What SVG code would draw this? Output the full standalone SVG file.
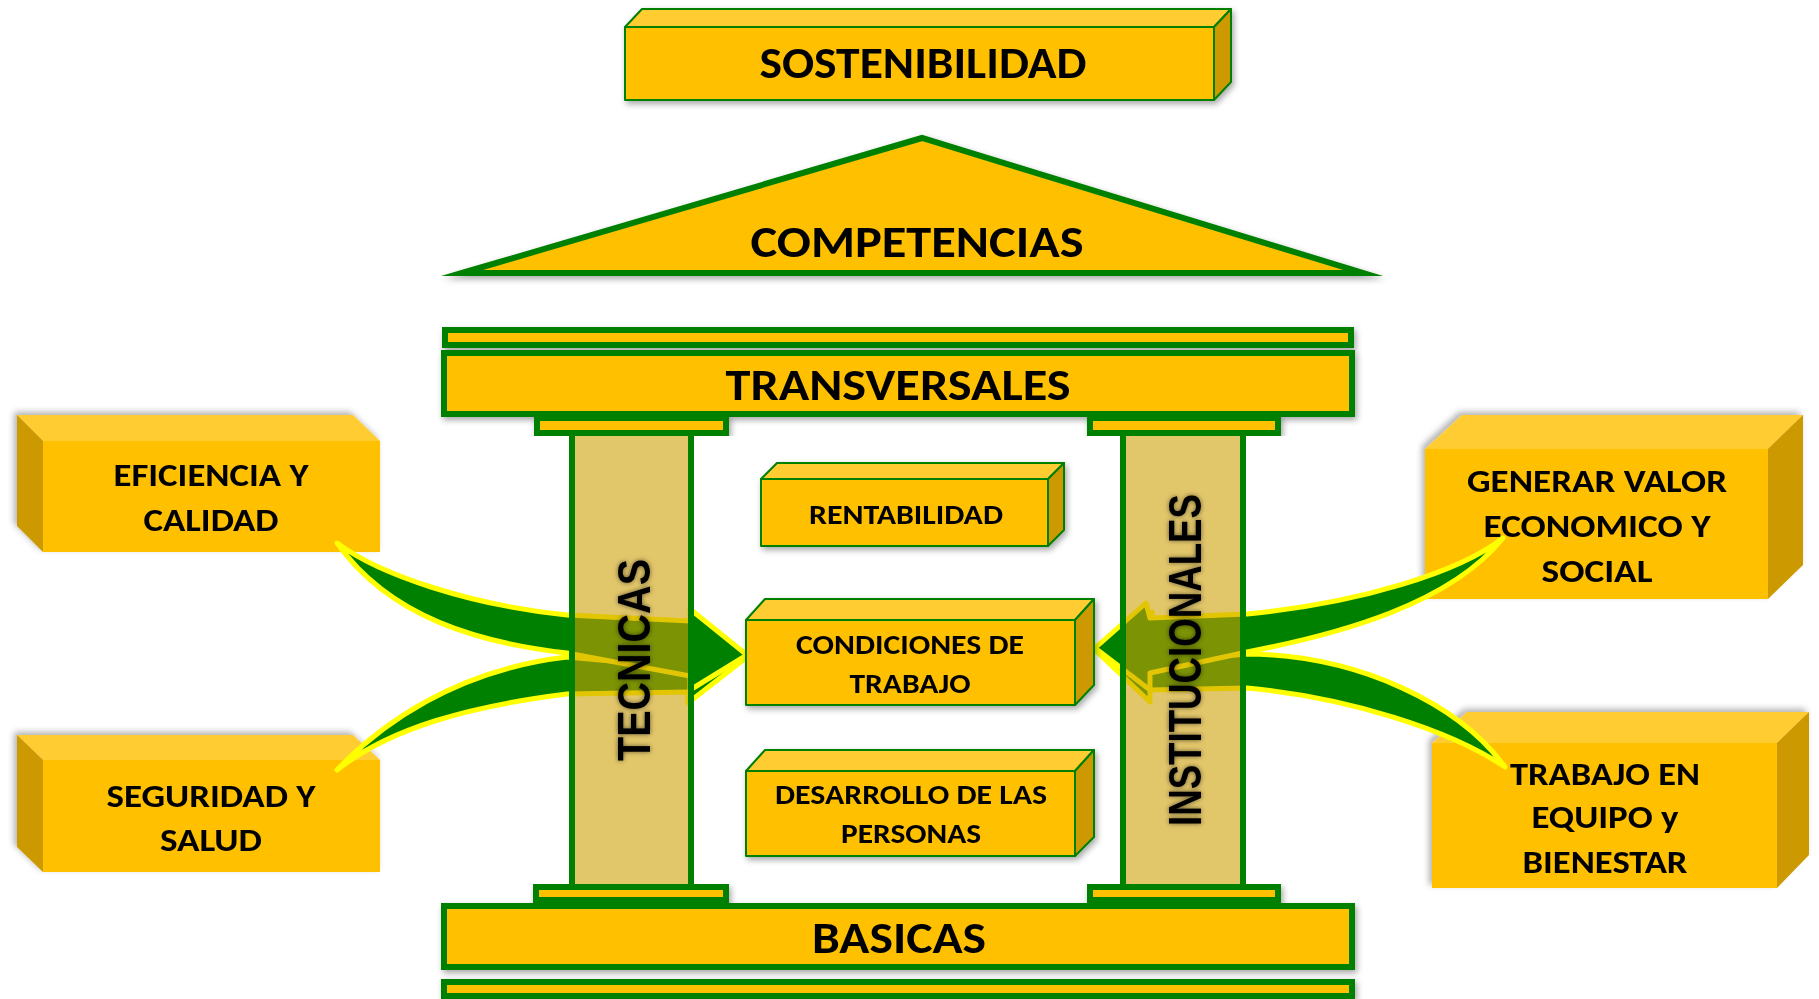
<svg xmlns="http://www.w3.org/2000/svg" width="1819" height="999" viewBox="0 0 1819 999">
<defs>
<style>
.front{fill:#FFC000}
.top{fill:#FFCC33}
.side{fill:#CC9900}
.edge{stroke:#008000;stroke-width:2;stroke-linejoin:round}
.bar{fill:#FFC000;stroke:#008000;stroke-width:6}
.col{fill:#CFA007;fill-opacity:0.6;stroke:#008000;stroke-width:6}
.arrow{fill:#008000;stroke:#FFFF00;stroke-width:5;stroke-linejoin:round}
.t{font-family:Carlito,Lato,'Liberation Sans',sans-serif;font-weight:700;fill:#000;text-anchor:middle}
.big{font-size:45px}
.mid{font-size:32px}
.small{font-size:28px}
.colt{font-family:'Liberation Sans',Arial,sans-serif;font-weight:700;font-size:47px;fill:#000;text-anchor:middle}
</style>
<filter id="sh" x="-10%" y="-20%" width="120%" height="140%"><feDropShadow dx="2" dy="3" stdDeviation="3" flood-color="#000" flood-opacity="0.35"/></filter>
<filter id="shl" x="-10%" y="-20%" width="120%" height="140%"><feDropShadow dx="-3" dy="-3" stdDeviation="3" flood-color="#000" flood-opacity="0.3"/></filter>
<filter id="tsh" x="-20%" y="-40%" width="140%" height="180%"><feDropShadow dx="0" dy="0" stdDeviation="2.5" flood-color="#000" flood-opacity="0.55"/></filter>
</defs>
<rect width="1819" height="999" fill="#FFFFFF"/>

<g id="sostenibilidad" filter="url(#sh)">
<polygon class="top edge" points="625,27 642,9 1231,9 1214,27"/>
<polygon class="side edge" points="1214,27 1231,9 1231,82 1214,100"/>
<rect class="front edge" x="625" y="27" width="589" height="73"/>
<text class="t big" x="923" y="78" textLength="327" lengthAdjust="spacingAndGlyphs">SOSTENIBILIDAD</text>
</g>

<g id="competencias" filter="url(#sh)">
<polygon points="462,273 922,138 1363,273" fill="#FFC000" stroke="#008000" stroke-width="6" stroke-miterlimit="40"/>
<text class="t big" x="917" y="257" textLength="333" lengthAdjust="spacingAndGlyphs">COMPETENCIAS</text>
</g>

<g id="eficiencia" filter="url(#shl)">
<polygon class="top" points="17,415 353,415 380,441 43,441"/>
<polygon class="side" points="17,415 43,441 43,552 17,526"/>
<rect class="front" x="43" y="441" width="337" height="111"/>
<text class="t mid" x="211" y="486" textLength="195" lengthAdjust="spacingAndGlyphs">EFICIENCIA Y</text>
<text class="t mid" x="211" y="531" textLength="135" lengthAdjust="spacingAndGlyphs">CALIDAD</text>
</g>

<g id="seguridad" filter="url(#shl)">
<polygon class="top" points="17,735 353,735 380,760 43,760"/>
<polygon class="side" points="17,735 43,760 43,872 17,847"/>
<rect class="front" x="43" y="760" width="337" height="112"/>
<text class="t mid" x="211" y="807" textLength="209" lengthAdjust="spacingAndGlyphs">SEGURIDAD Y</text>
<text class="t mid" x="211" y="851" textLength="102" lengthAdjust="spacingAndGlyphs">SALUD</text>
</g>

<g id="generar" filter="url(#shl)">
<polygon class="top" points="1425,449 1462,415 1803,415 1768,449"/>
<polygon class="side" points="1768,449 1803,415 1803,565 1768,599"/>
<rect class="front" x="1425" y="449" width="343" height="150"/>
<text class="t mid" x="1597" y="492" textLength="260" lengthAdjust="spacingAndGlyphs">GENERAR VALOR</text>
<text class="t mid" x="1597" y="537" textLength="227" lengthAdjust="spacingAndGlyphs">ECONOMICO Y</text>
<text class="t mid" x="1597" y="582" textLength="111" lengthAdjust="spacingAndGlyphs">SOCIAL</text>
</g>

<g id="trabajo-equipo" filter="url(#shl)">
<polygon class="top" points="1432,743 1467,712 1809,712 1777,743"/>
<polygon class="side" points="1777,743 1809,712 1809,855 1777,888"/>
<rect class="front" x="1432" y="743" width="345" height="145"/>
<text class="t mid" x="1605" y="785" textLength="190" lengthAdjust="spacingAndGlyphs">TRABAJO EN</text>
<text class="t mid" x="1605" y="828" textLength="147" lengthAdjust="spacingAndGlyphs">EQUIPO y</text>
<text class="t mid" x="1605" y="873" textLength="165" lengthAdjust="spacingAndGlyphs">BIENESTAR</text>
</g>

<g id="connectors">
<path class="arrow" d="M 337,770 C 380,725 455,670 567,657 L 688,668 L 688,622 L 747,657 L 688,703 L 688,692 L 567,694 C 470,706 390,728 337,770 Z"/>
<path class="arrow" d="M 337,543 C 380,575 470,605 567,615 L 690,621 L 690,609 L 747,655 L 690,690 L 690,676 L 567,653 C 480,643 390,618 337,543 Z"/>
<path class="arrow" d="M 1505,767 C 1460,705 1360,655 1247,654 L 1152,662 L 1152,612 L 1095,650 L 1150,702 L 1150,690 L 1247,688 C 1350,698 1450,730 1505,767 Z"/>
<path class="arrow" d="M 1503,538 C 1460,572 1360,603 1247,614 L 1150,618 L 1146,603 L 1095,648 L 1150,690 L 1150,673 L 1247,652 C 1340,634 1450,604 1503,538 Z"/>
</g>

<g id="transversales" filter="url(#sh)">
<rect class="bar" x="445" y="330" width="906" height="15"/>
<rect class="bar" x="444" y="353" width="908" height="61"/>
<text class="t big" x="898" y="400" textLength="345" lengthAdjust="spacingAndGlyphs">TRANSVERSALES</text>
</g>

<g id="basicas" filter="url(#sh)">
<rect class="bar" x="444" y="906" width="908" height="61"/>
<rect class="bar" x="444" y="982" width="908" height="14"/>
<text class="t big" x="899" y="953" textLength="174" lengthAdjust="spacingAndGlyphs">BASICAS</text>
</g>

<g id="tecnicas">
<rect class="col" x="572" y="433" width="119" height="454"/>
<rect class="bar" x="537" y="418" width="189" height="15" filter="url(#sh)"/>
<rect class="bar" x="536" y="887" width="190" height="13" filter="url(#sh)"/>
<text class="colt" transform="translate(650,660) rotate(-90)" textLength="202" lengthAdjust="spacingAndGlyphs" filter="url(#tsh)">TECNICAS</text>
</g>

<g id="institucionales">
<rect class="col" x="1123" y="433" width="120" height="454"/>
<rect class="bar" x="1090" y="418" width="188" height="15" filter="url(#sh)"/>
<rect class="bar" x="1090" y="887" width="188" height="13" filter="url(#sh)"/>
<text class="colt" transform="translate(1201,660) rotate(-90)" textLength="332" lengthAdjust="spacingAndGlyphs" filter="url(#tsh)">INSTITUCIONALES</text>
</g>

<g id="rentabilidad" filter="url(#sh)">
<polygon class="top edge" points="761,479 777,463 1064,463 1048,479"/>
<polygon class="side edge" points="1048,479 1064,463 1064,530 1048,546"/>
<rect class="front edge" x="761" y="479" width="287" height="67"/>
<text class="t small" x="906" y="524" textLength="194" lengthAdjust="spacingAndGlyphs">RENTABILIDAD</text>
</g>

<g id="condiciones" filter="url(#sh)">
<polygon class="top edge" points="746,620 765,599 1094,599 1075,620"/>
<polygon class="side edge" points="1075,620 1094,599 1094,685 1075,705"/>
<rect class="front edge" x="746" y="620" width="329" height="85"/>
<text class="t small" x="910" y="654" textLength="228" lengthAdjust="spacingAndGlyphs">CONDICIONES DE</text>
<text class="t small" x="910" y="693" textLength="121" lengthAdjust="spacingAndGlyphs">TRABAJO</text>
</g>

<g id="desarrollo" filter="url(#sh)">
<polygon class="top edge" points="746,771 765,750 1094,750 1075,771"/>
<polygon class="side edge" points="1075,771 1094,750 1094,837 1075,856"/>
<rect class="front edge" x="746" y="771" width="329" height="85"/>
<text class="t small" x="911" y="804" textLength="272" lengthAdjust="spacingAndGlyphs">DESARROLLO DE LAS</text>
<text class="t small" x="911" y="843" textLength="140" lengthAdjust="spacingAndGlyphs">PERSONAS</text>
</g>
</svg>
